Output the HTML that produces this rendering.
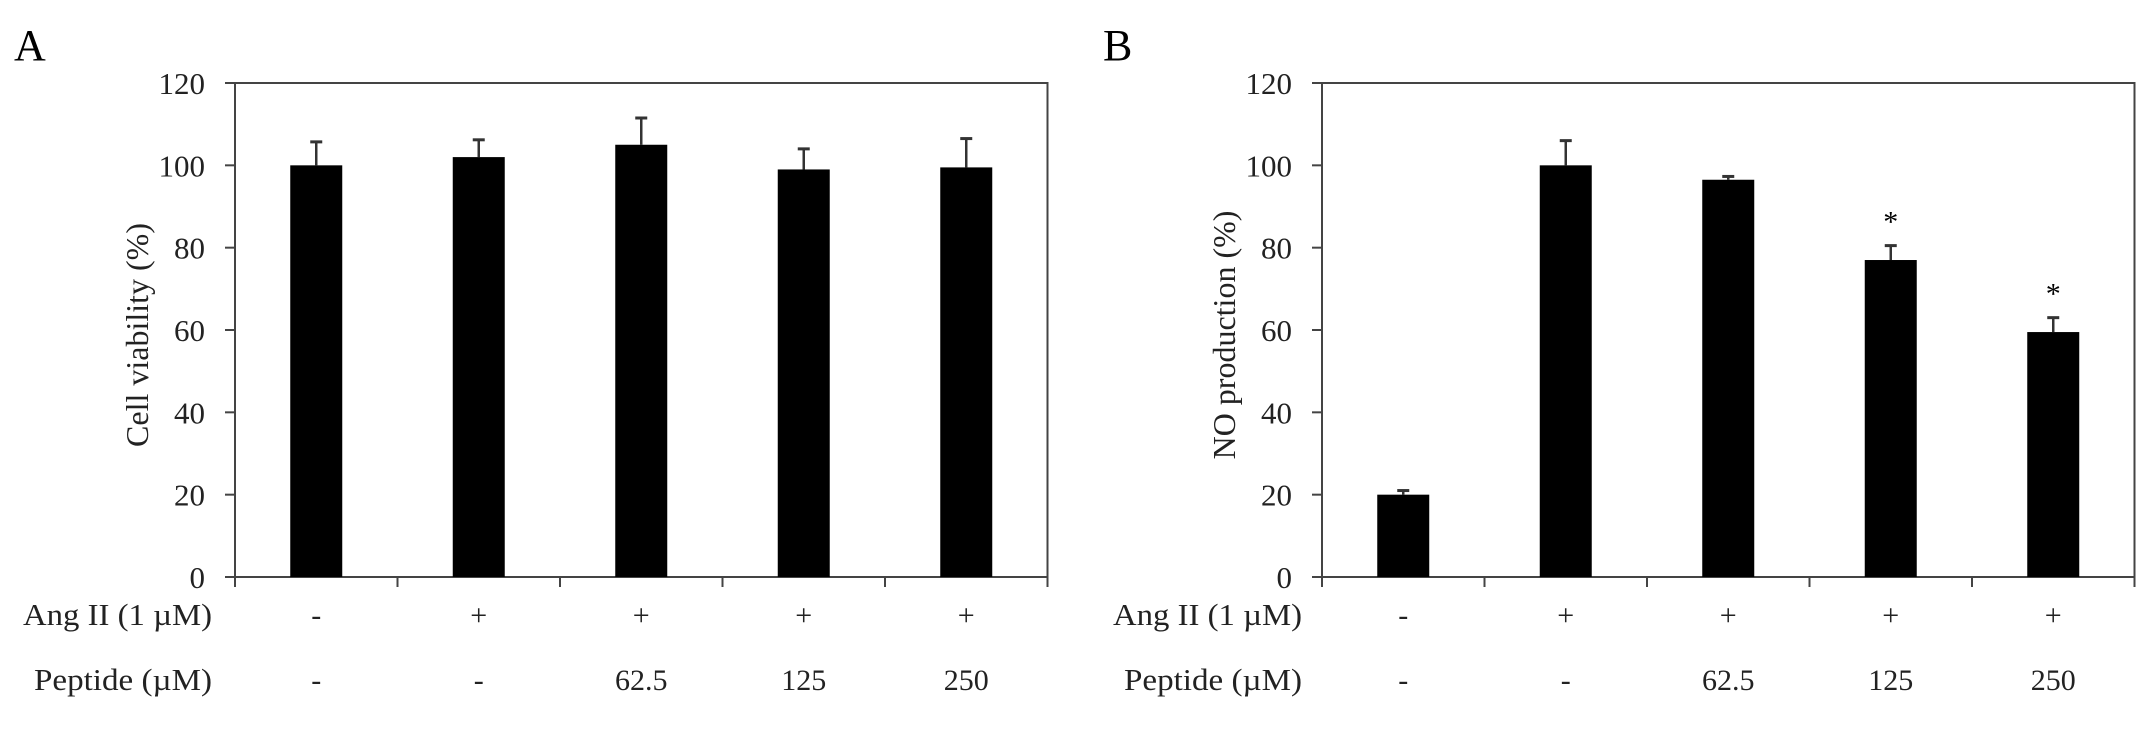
<!DOCTYPE html>
<html><head><meta charset="utf-8"><style>
html,body{margin:0;padding:0;background:#fff;}
svg{display:block;font-family:"Liberation Serif",serif;}
</style></head><body>
<svg id="fig" width="2151" height="730" viewBox="0 0 2151 730"></svg>
<script>
const categories = ["ctrl","ang","p62","p125","p250"];
const angLabels = ["-","+","+","+","+"];
const pepLabels = ["-","-","62.5","125","250"];
const yTicks = [0,20,40,60,80,100,120];
const viabilityValues = [100,102,105,99,99.5];
const viabilityErrors = [5.7,4.2,6.5,5,7];
const noValues = [20,100,96.5,77,59.5];
const noErrors = [1,6,0.8,3.5,3.5];
const noStars = [false,false,false,true,true];

const NS="http://www.w3.org/2000/svg";
const svg=document.getElementById('fig');
function mk(tag,attrs,parent,txt){const e=document.createElementNS(NS,tag);for(const k in attrs)e.setAttribute(k,attrs[k]);if(txt!==undefined)e.textContent=txt;(parent||svg).appendChild(e);return e;}

function panel(p){
  const g=mk('g',{});
  
  
  const x0=p.left, top=83, bot=577, cw=162.5, x1=x0+cw*categories.length;
  const y=v=>bot-(v/120)*(bot-top);
  const cx=i=>x0+cw*(i+0.5);
  const letter=mk('text',{x:p.letterX,y:60,'font-size':44},g,p.letter);
  
  
  const frame=mk('rect',{x:x0,y:top,width:x1-x0,height:bot-top,fill:'none',stroke:'#444','stroke-width':2},g);
  
  
  yTicks.forEach(t=>{
    const ln=mk('line',{x1:x0-10,x2:x0,y1:y(t),y2:y(t),stroke:'#444','stroke-width':2},g);
    
    
    const tx=mk('text',{x:x0-30,y:y(t)+11,'font-size':31,'text-anchor':'end',fill:'#222'},g,String(t));
    
    
  });
  for(let i=0;i<=categories.length;i++){
    const ln=mk('line',{x1:x0+cw*i,x2:x0+cw*i,y1:bot,y2:bot+10,stroke:'#444','stroke-width':2},g);
    
    
  }
  p.values.forEach((v,i)=>{
    const e=p.errors[i];
    const el=mk('line',{x1:cx(i),x2:cx(i),y1:y(v),y2:y(v+e),stroke:'#333','stroke-width':2.5},g);
    
    
    const cap=mk('line',{x1:cx(i)-6,x2:cx(i)+6,y1:y(v+e),y2:y(v+e),stroke:'#333','stroke-width':3},g);
    
    
    const r=mk('rect',{x:cx(i)-26,y:y(v),width:52,height:bot-y(v),fill:'#000'},g);
    
    
    if(p.stars&&p.stars[i]){
      const s=mk('text',{x:cx(i),y:y(v+e)-14,'font-size':30,'text-anchor':'middle'},g,'*');
      
      
    }
    const a=mk('text',{x:cx(i),y:625,'font-size':30,'text-anchor':'middle',fill:'#222'},g,angLabels[i]);
    
    
    const b=mk('text',{x:cx(i),y:690,'font-size':30,'text-anchor':'middle',fill:'#222'},g,pepLabels[i]);
    
    
  });
  const ra=mk('text',{x:p.rowRight,y:625,'font-size':31,'text-anchor':'end',fill:'#222',textLength:189,lengthAdjust:'spacingAndGlyphs'},g,'Ang II (1 \u00b5M)');
  
  
  const rb=mk('text',{x:p.rowRight,y:690,'font-size':31,'text-anchor':'end',fill:'#222',textLength:178,lengthAdjust:'spacingAndGlyphs'},g,'Peptide (\u00b5M)');
  
  
  const yt=mk('text',{x:0,y:0,'font-size':32,'text-anchor':'middle',fill:'#222',transform:`translate(${p.titleX},335) rotate(-90)`},g,p.title);
  
  
}
panel({name:'panel-a',letter:'A',letterX:14,left:235,values:viabilityValues,errors:viabilityErrors,stars:null,rowRight:212,titleX:148,title:'Cell viability (%)'});
panel({name:'panel-b',letter:'B',letterX:1103,left:1322,values:noValues,errors:noErrors,stars:noStars,rowRight:1302,titleX:1235,title:'NO production (%)'});
</script>
</body></html>
